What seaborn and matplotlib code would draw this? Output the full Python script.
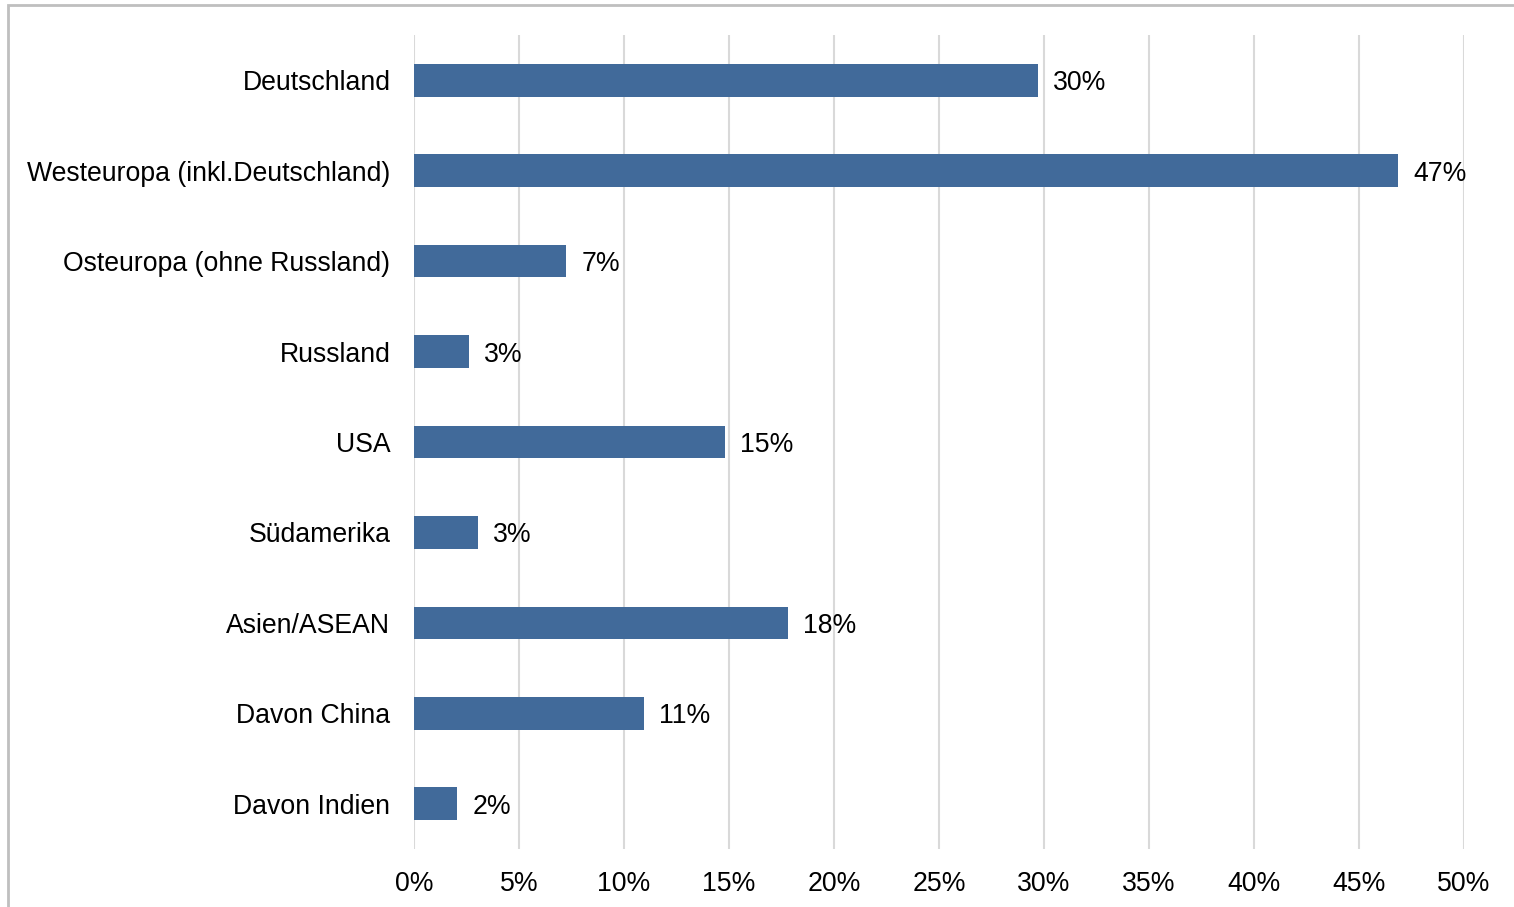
import pandas as pd
import matplotlib.pyplot as plt
import matplotlib.patches as mpatches
import seaborn as sns

regions = ['Deutschland', 'Westeuropa (inkl.Deutschland)', 'Osteuropa (ohne Russland)',
           'Russland', 'USA', 'Südamerika', 'Asien/ASEAN', 'Davon China', 'Davon Indien']
shares = [29.7, 46.85, 7.25, 2.6, 14.8, 3.05, 17.8, 10.95, 2.05]
xticks = [0, 5, 10, 15, 20, 25, 30, 35, 40, 45, 50]

df = pd.DataFrame({'region': regions, 'share': shares})

sns.set_style('white')
plt.rcParams['font.family'] = ['Liberation Sans', 'DejaVu Sans']

fig = plt.figure(figsize=(15.14, 9.07), dpi=100)
ax = fig.add_axes([414 / 1514, 1 - 849 / 907, 1050 / 1514, 814 / 907])

sns.barplot(data=df, x='share', y='region', orient='h', color='#416a9a',
            width=0.36, saturation=1, linewidth=0, ax=ax, zorder=3)

for i, v in enumerate(shares):
    ax.text(v + 0.72, i, f'{round(v):.0f}%', va='center_baseline', ha='left',
            fontsize=19.2, color='black')

ax.set_xlim(0, 50)
ax.set_ylim(8.5, -0.5)
ax.set_xticks(xticks)
ax.set_xticklabels([f'{t}%' for t in xticks])
ax.xaxis.grid(True, color='#d9d9d9', linewidth=1.5, zorder=0)
ax.yaxis.grid(False)
for s in ax.spines.values():
    s.set_visible(False)
ax.tick_params(axis='both', length=0, labelsize=19.2, colors='black')
ax.tick_params(axis='y', pad=17)
ax.tick_params(axis='x', pad=16)
ax.set_xlabel('')
ax.set_ylabel('')

# outer chart frame (cut off on right and bottom)
fig.patches.append(mpatches.Rectangle((8 / 1514, -0.05), 1.2, 1 - 5 / 907 + 0.05,
                                      transform=fig.transFigure, fill=False,
                                      edgecolor='#bfbfbf', linewidth=2))

fig.savefig('out.png', dpi=100)
